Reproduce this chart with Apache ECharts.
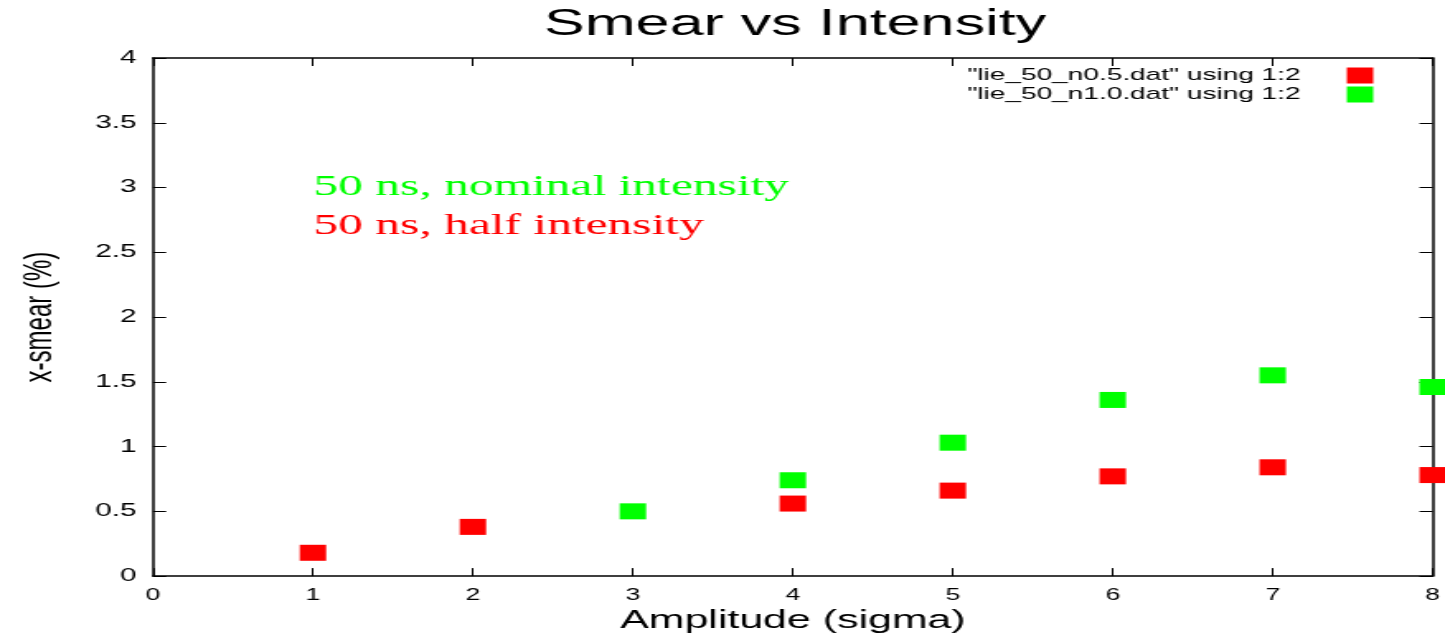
<!DOCTYPE html>
<html>
<head>
<meta charset="utf-8">
<title>Smear vs Intensity</title>
<script src="https://cdn.jsdelivr.net/npm/echarts@6/dist/echarts.min.js"></script>
<style>
  html, body { margin: 0; padding: 0; background: #fff; overflow: hidden; }
  /* the plot is laid out at a narrow width and stretched sideways to fill the window */
  #chart { width: 876px; height: 639px; transform: scaleX(1.6495); transform-origin: 0 0; }
</style>
</head>
<body>
<div id="chart"></div>
<script>
// Tick labels
const xTickLabels = ['0', '1', '2', '3', '4', '5', '6', '7', '8'];
const yTickLabels = ['0', '0.5', '1', '1.5', '2', '2.5', '3', '3.5', '4'];

// Series names (as in the key)
const halfName = '"lie_50_n0.5.dat" using 1:2';
const nominalName = '"lie_50_n1.0.dat" using 1:2';

// 50 ns, half intensity
const halfAmplitude = [1, 2, 4, 5, 6, 7, 8];
const halfSmear = [0.18, 0.38, 0.56, 0.66, 0.77, 0.84, 0.78];

// 50 ns, nominal intensity
const nominalAmplitude = [3, 4, 5, 6, 7, 8];
const nominalSmear = [0.50, 0.74, 1.03, 1.36, 1.55, 1.46];

// Annotations
const noteNominal = '50 ns, nominal intensity';
const noteHalf = '50 ns, half intensity';

const pairs = (xs, ys) => xs.map((x, i) => [x, ys[i]]);

const chart = echarts.init(document.getElementById('chart'));

const sans = 'Liberation Sans, Arial, Helvetica, sans-serif';
const serif = 'Liberation Serif, Times New Roman, serif';
const frameLine = { show: true, onZero: false, lineStyle: { color: '#000', width: 1.5 } };
const innerTick = { show: true, inside: true, length: 8, lineStyle: { color: '#000', width: 1 } };

chart.setOption({
  backgroundColor: '#fff',
  animation: false,
  title: {
    text: 'Smear vs Intensity',
    left: 477,
    top: 1,
    textAlign: 'center',
    textStyle: { fontFamily: sans, fontSize: 37, fontWeight: 'normal', color: '#000' }
  },
  legend: {
    orient: 'vertical',
    right: 38.5,
    top: 62,
    align: 'right',
    itemWidth: 16,
    itemHeight: 16,
    itemGap: 2,
    icon: 'rect',
    data: [halfName, nominalName],
    textStyle: { fontFamily: sans, fontSize: 17, color: '#000', padding: [0, 23, 0, 0] }
  },
  grid: { left: 92.75, right: 5.4, top: 58, bottom: 56, containLabel: false },
  xAxis: [{
    type: 'value',
    min: 0, max: 8, interval: 1,
    name: 'Amplitude (sigma)',
    nameLocation: 'middle',
    nameGap: 30,
    nameTextStyle: { fontFamily: sans, fontSize: 26, color: '#000' },
    axisLine: frameLine,
    axisTick: innerTick,
    axisLabel: {
      margin: 11, fontFamily: sans, fontSize: 16, color: '#000',
      formatter: v => xTickLabels[Math.round(v)]
    },
    splitLine: { show: false }
  }, {
    type: 'value', position: 'top',
    min: 0, max: 8, interval: 1,
    axisLine: frameLine, axisTick: innerTick,
    axisLabel: { show: false }, splitLine: { show: false }
  }],
  yAxis: [{
    type: 'value',
    min: 0, max: 4, interval: 0.5,
    name: 'x-smear (%)',
    nameLocation: 'middle',
    nameGap: 56,
    nameRotate: 90,
    nameTextStyle: { fontFamily: sans, fontSize: 24, color: '#000' },
    axisLine: frameLine,
    axisTick: innerTick,
    axisLabel: {
      margin: 10, fontFamily: sans, fontSize: 18, color: '#000',
      formatter: v => yTickLabels[Math.round(v / 0.5)]
    },
    splitLine: { show: false }
  }, {
    type: 'value', position: 'right',
    min: 0, max: 4, interval: 0.5,
    axisLine: frameLine, axisTick: innerTick,
    axisLabel: { show: false }, splitLine: { show: false }
  }],
  series: [{
    name: halfName,
    type: 'scatter',
    symbol: 'rect',
    symbolSize: [16, 16],
    clip: false,
    itemStyle: { color: '#ff0000', opacity: 1 },
    data: pairs(halfAmplitude, halfSmear)
  }, {
    name: nominalName,
    type: 'scatter',
    symbol: 'rect',
    symbolSize: [16, 16],
    clip: false,
    itemStyle: { color: '#00ff00', opacity: 1 },
    data: pairs(nominalAmplitude, nominalSmear)
  }],
  graphic: [{
    type: 'text',
    left: 190,
    top: 172,
    style: { text: noteNominal, fill: '#00ff00', font: '30px ' + serif }
  }, {
    type: 'text',
    left: 190,
    top: 211,
    style: { text: noteHalf, fill: '#ff0000', font: '30px ' + serif }
  }]
});
</script>
</body>
</html>
